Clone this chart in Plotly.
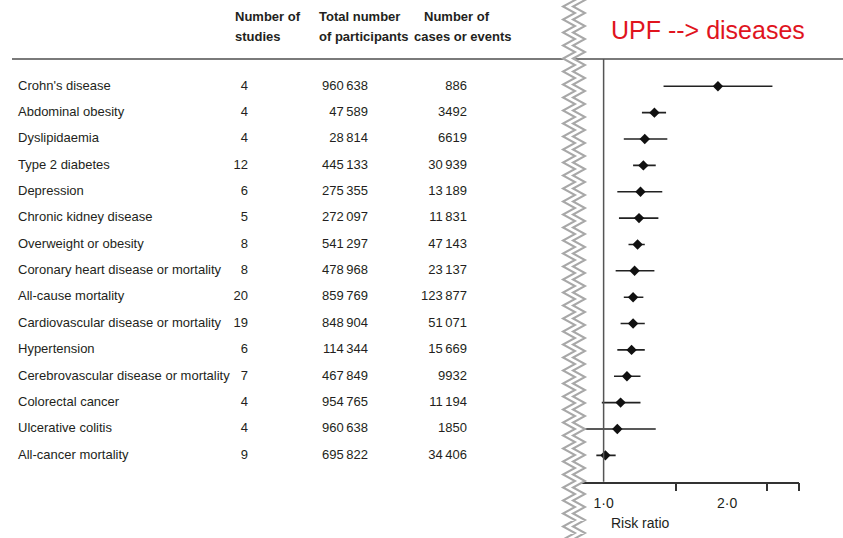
import math
import plotly.graph_objects as go

# ---------------- data ----------------
outcomes = ["Crohn's disease", "Abdominal obesity", "Dyslipidaemia", "Type 2 diabetes",
            "Depression", "Chronic kidney disease", "Overweight or obesity",
            "Coronary heart disease or mortality", "All-cause mortality",
            "Cardiovascular disease or mortality", "Hypertension",
            "Cerebrovascular disease or mortality", "Colorectal cancer",
            "Ulcerative colitis", "All-cancer mortality"]
n_studies = [4, 4, 4, 12, 6, 5, 8, 8, 20, 19, 6, 7, 4, 4, 9]
n_participants = [960638, 47589, 28814, 445133, 275355, 272097, 541297, 478968,
                  859769, 848904, 114344, 467849, 954765, 960638, 695822]
n_cases = [886, 3492, 6619, 30939, 13189, 11831, 47143, 23137, 123877, 51071,
           15669, 9932, 11194, 1850, 34406]
risk_ratio = [1.90, 1.33, 1.26, 1.25, 1.23, 1.22, 1.21, 1.19, 1.18, 1.18, 1.17, 1.14, 1.10, 1.08, 1.01]
ci_low = [1.40, 1.24, 1.12, 1.18, 1.08, 1.09, 1.15, 1.07, 1.12, 1.10, 1.08, 1.06, 0.99, 0.88, 0.96]
ci_high = [2.58, 1.42, 1.43, 1.34, 1.39, 1.36, 1.26, 1.33, 1.25, 1.26, 1.26, 1.23, 1.23, 1.34, 1.07]
tick_values = [1.0, 2.0]
tick_labels = ["1·0", "2·0"]
minor_ticks = [1.5, 2.5, 3.0]
headers = [("Number of", "studies"), ("Total number", "of participants"), ("Number of", "cases or events")]
title_text = "UPF --> diseases"
axis_label = "Risk ratio"

# ---------------- layout helpers ----------------
W, H = 843, 538
def px(x):
    return x / W
def py(y):
    return 1 - y / H

def fmt(v):
    s = str(v)
    if len(s) >= 5:
        s = f"{v:,}".replace(",", "\u2009")
    return s

rows = list(range(len(outcomes)))
TXT = "#231f20"
FONT = "Liberation Sans, Arial, sans-serif"
FS = 13

fig = go.Figure()

# table columns (x2 axis in pixel-like units)
fig.add_trace(go.Scatter(x=[18] * len(rows), y=rows, text=outcomes, mode="text",
                         textposition="middle right", xaxis="x2", yaxis="y",
                         textfont=dict(family=FONT, size=FS, color=TXT), hoverinfo="skip"))
fig.add_trace(go.Scatter(x=[248] * len(rows), y=rows, text=[str(v) for v in n_studies], mode="text",
                         textposition="middle left", xaxis="x2", yaxis="y",
                         textfont=dict(family=FONT, size=FS, color=TXT), hoverinfo="skip"))
fig.add_trace(go.Scatter(x=[368] * len(rows), y=rows, text=[fmt(v) for v in n_participants], mode="text",
                         textposition="middle left", xaxis="x2", yaxis="y",
                         textfont=dict(family=FONT, size=FS, color=TXT), hoverinfo="skip"))
fig.add_trace(go.Scatter(x=[467] * len(rows), y=rows, text=[fmt(v) for v in n_cases], mode="text",
                         textposition="middle left", xaxis="x2", yaxis="y",
                         textfont=dict(family=FONT, size=FS, color=TXT), hoverinfo="skip"))

# forest plot
fig.add_trace(go.Scatter(
    x=risk_ratio, y=rows, mode="markers", xaxis="x", yaxis="y",
    marker=dict(symbol="diamond", size=8, color="#111111"),
    error_x=dict(type="data", symmetric=False,
                 array=[h - r for h, r in zip(ci_high, risk_ratio)],
                 arrayminus=[r - l for r, l in zip(risk_ratio, ci_low)],
                 width=0, thickness=1.6, color="#222222"),
    hoverinfo="skip"))

y_top_row = (59 - 86.3) / 26.36
y_bot_row = (481.7 - 86.3) / 26.36

fig.update_layout(
    width=W, height=H, margin=dict(l=0, r=0, t=0, b=0),
    paper_bgcolor="white", plot_bgcolor="white", showlegend=False,
    xaxis=dict(type="log", domain=[px(580.7), px(799.3)],
               range=[math.log10(0.8793), math.log10(3.0)],
               showgrid=False, zeroline=False, showline=True, linecolor="#333333", linewidth=1.5,
               tickvals=tick_values, ticktext=tick_labels, ticks="outside", ticklen=8,
               tickcolor="rgba(0,0,0,0)", tickfont=dict(family=FONT, size=14, color=TXT),
               minor=dict(tickvals=minor_ticks, ticks="outside", ticklen=8, tickwidth=1.5,
                          tickcolor="#333333", showgrid=False),
               anchor="y", fixedrange=True),
    xaxis2=dict(domain=[0, px(560)], range=[0, 560], visible=False, anchor="y", fixedrange=True),
    yaxis=dict(domain=[py(481.7), py(59)], range=[y_bot_row, y_top_row], visible=False,
               fixedrange=True),
)

shapes = []
# header rule
shapes.append(dict(type="line", xref="paper", yref="paper", x0=px(12), x1=1, y0=py(59), y1=py(59),
                   line=dict(color="#7a7a7a", width=2)))
# reference line at RR = 1
shapes.append(dict(type="line", xref="x", yref="y domain", x0=1, x1=1, y0=0, y1=1,
                   line=dict(color="#555555", width=1.5)))

# zigzag "break" band
P = 13.0
AMP = 12.0
XL = 563.0
OFF = 10.0
n = int(H / (P / 2)) + 3
left_pts = [(XL + AMP * (k % 2), -P / 2 + k * P / 2) for k in range(n)]
right_pts = [(x + OFF, y) for x, y in left_pts]
poly = "M " + " L ".join(f"{px(x):.5f},{py(y):.5f}" for x, y in left_pts)
poly += " L " + " L ".join(f"{px(x):.5f},{py(y):.5f}" for x, y in reversed(right_pts)) + " Z"
shapes.append(dict(type="path", xref="paper", yref="paper", path=poly, fillcolor="white",
                   line=dict(width=0), layer="above"))
for pts in (left_pts, right_pts):
    path = "M " + " L ".join(f"{px(x):.5f},{py(y):.5f}" for x, y in pts)
    shapes.append(dict(type="path", xref="paper", yref="paper", path=path,
                       line=dict(color="#a8a8a8", width=2), layer="above"))
fig.update_layout(shapes=shapes)

ann = []
hx = [(233, 233), (317, 317), (421.5, 411.5)]
for (l1, l2), (x1, x2) in zip(headers, hx):
    ann.append(dict(text=f"<b>{l1}</b>", x=px(x1), y=py(16.5), xref="paper", yref="paper",
                    xanchor="left", yanchor="middle", showarrow=False,
                    font=dict(family=FONT, size=FS, color=TXT)))
    ann.append(dict(text=f"<b>{l2}</b>", x=px(x2), y=py(37), xref="paper", yref="paper",
                    xanchor="left", yanchor="middle", showarrow=False,
                    font=dict(family=FONT, size=FS, color=TXT)))
ann.append(dict(text=title_text, x=px(609), y=py(30), xref="paper", yref="paper",
                xanchor="left", yanchor="middle", showarrow=False,
                font=dict(family="Liberation Sans, Arial, sans-serif", size=25, color="#e0141e")))
ann.append(dict(text=axis_label, x=px(609), y=py(522.5), xref="paper", yref="paper",
                xanchor="left", yanchor="middle", showarrow=False,
                font=dict(family=FONT, size=14, color=TXT)))
fig.update_layout(annotations=ann)

fig.write_html("out.html", config={"displayModeBar": False},
               post_script="document.body.style.margin='0px';")
